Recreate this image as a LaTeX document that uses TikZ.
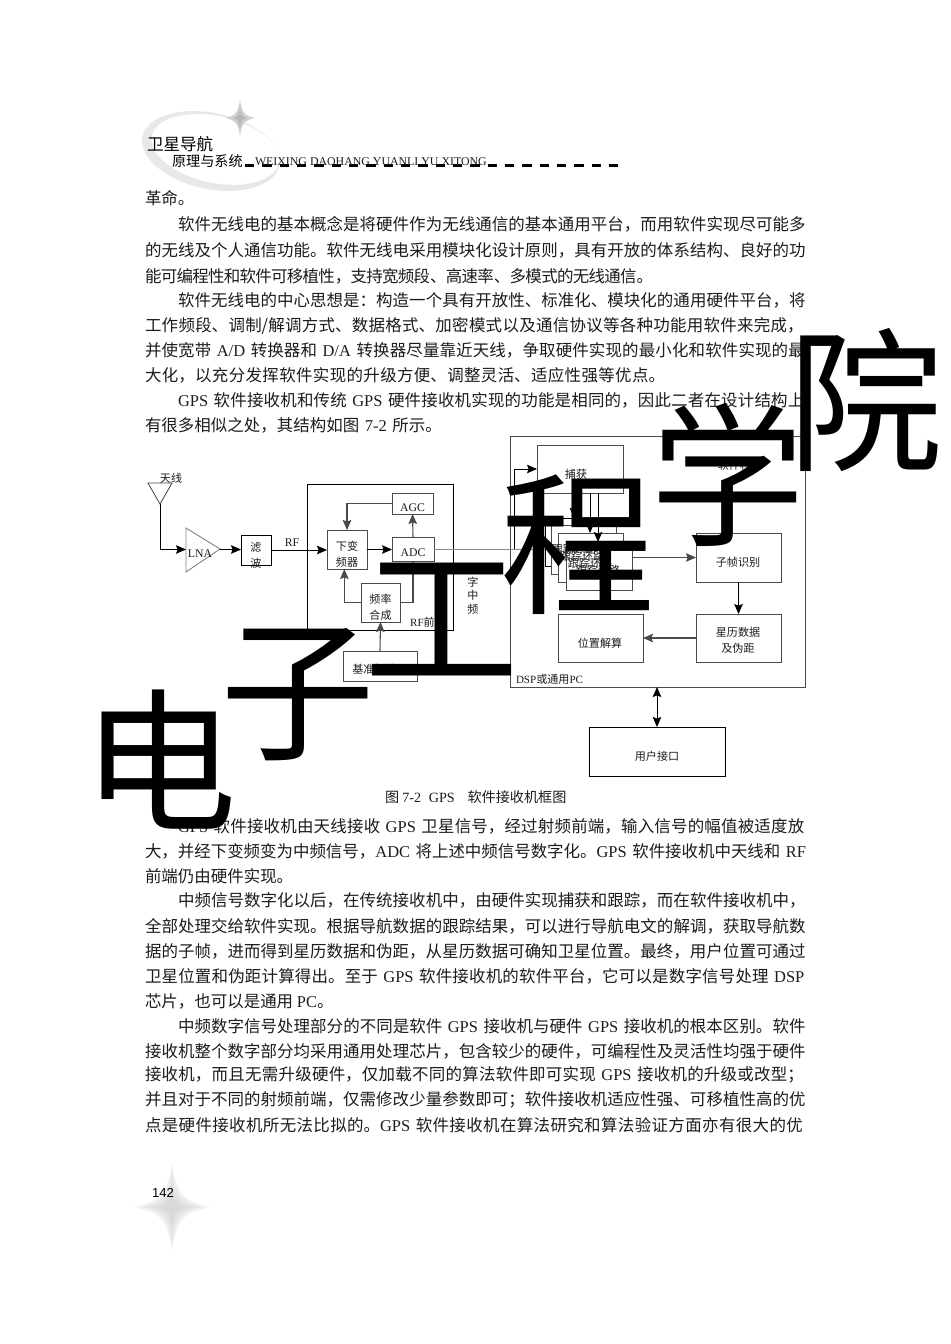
\documentclass[tikz,border=0pt]{standalone}
\usepackage{fontspec}
\usetikzlibrary{arrows.meta,calc}
\setmainfont{Noto Sans CJK SC}
\newfontfamily\tm{Liberation Serif}
\newfontfamily\ar{Liberation Sans}
\XeTeXlinebreaklocale "zh"
\XeTeXlinebreakskip=0pt plus 3pt minus 0.7pt
\newcommand\T[1]{{\tm #1}}
\newcounter{ln}
\definecolor{ink}{HTML}{1C1C1C}
\definecolor{wire}{HTML}{4A4A4A}
\tikzset{
  bodyfull/.style={anchor=base west,inner sep=0pt,outer sep=0pt,text=ink,font=\fontsize{12.35pt}{14pt}\selectfont},
  boxnode/.style={draw=wire,line width=.7pt,fill=white,inner sep=0pt,outer sep=0pt},
  blackbox/.style={boxnode,draw=black},
  lab/.style={inner sep=0pt,outer sep=0pt,text=ink,align=center,font=\fontsize{8.3pt}{12pt}\selectfont},
  latinlab/.style={lab,font=\tm\fontsize{8.8pt}{10pt}\selectfont},
  conn/.style={draw=black,line width=.7pt},
  grayconn/.style={draw=wire,line width=.8pt},
  arr/.style={-{Stealth[length=7.5pt,width=6.4pt,inset=1.2pt]}},
  mark2/.style={inner sep=0pt,outer sep=0pt,text=black,font=\fontsize{116pt}{116pt}\selectfont},
}
% justified line: x, y (centre), right end, text
\newcommand\Lw[4]{\stepcounter{ln}\node[bodyfull,text width={(#3-#1)*0.75pt}] (L\arabic{ln}) at (#1,#2+6) {\parindent=0pt\parfillskip=0pt\tolerance=10000\hbadness=10000 #4\par};}
\newcommand\Ln[3]{\Lw{#1}{#2}{806}{#3}}
% short line
\newcommand\Sh[3]{\stepcounter{ln}\node[bodyfull] (L\arabic{ln}) at (#1,#2+6) {#3};}
% box: style,name,x1,y1,x2,y2
\newcommand\Bx[6]{\node[#1,minimum width={(#5-#3)*0.75pt},minimum height={(#6-#4)*0.75pt}] (#2) at ({(#3+#5)/2},{(#4+#6)/2}) {};}
% four point star: cx,cy,half width,half height,style
\newcommand\Star[5]{\fill[#5] (#1-#3,#2) .. controls (#1-#3*.3,#2-#4*.12) and (#1-#3*.12,#2-#4*.3) .. (#1,#2-#4)
  .. controls (#1+#3*.12,#2-#4*.3) and (#1+#3*.3,#2-#4*.12) .. (#1+#3,#2)
  .. controls (#1+#3*.3,#2+#4*.12) and (#1+#3*.12,#2+#4*.3) .. (#1,#2+#4)
  .. controls (#1-#3*.12,#2+#4*.3) and (#1-#3*.3,#2+#4*.12) .. cycle;}
\begin{document}
\begin{tikzpicture}[x=0.75pt,y=-0.75pt]
\useasboundingbox (0,0) rectangle (950,1344);
\fill[white] (0,0) rectangle (950,1344);

% header ornaments
\fill[black!9,even odd rule,rotate around={-12:(211,151)}]
  (211,151) ellipse [x radius=70,y radius=38]
  (215,148.5) ellipse [x radius=65,y radius=33.5];
\Star{240}{118}{15}{18}{black!18}
\Star{240}{118}{7}{11}{black!28}

\node[lab,anchor=base west,text=black,font=\fontsize{12.4pt}{13pt}\selectfont] (hd1) at (147,151) {卫星导航};
\node[lab,anchor=base west,text=black,font=\fontsize{10.6pt}{12pt}\selectfont] (hd2) at (172,167) {原理与系统};
\draw[black,line width=1.9pt,dash pattern=on 7pt off 6pt] (245,165.6) -- (620,165.6);
\node[lab,anchor=base west,font=\tm\fontsize{8.9pt}{9pt}\selectfont] (hd3) at (255,166) {WEIXING DAOHANG YUANLI YU XITONG};

% footer ornaments
\Star{172}{1207}{38}{43}{black!6}
\Star{172}{1207}{30}{36}{black!9}
\Star{172}{1207}{22}{28}{black!12}
\Star{172}{1207}{14}{19}{black!15}
\node[lab,anchor=base,text=black,font=\ar\fontsize{9.8pt}{11pt}\selectfont] (pg) at (163,1197) {142};

% body text, top
\Sh{145}{199}{革命。}
\Ln{178}{225}{软件无线电的基本概念是将硬件作为无线通信的基本通用平台，而用软件实现尽可能多}
\Ln{145}{251}{的无线及个人通信功能。软件无线电采用模块化设计原则，具有开放的体系结构、良好的功}
\Lw{145}{276}{653}{能可编程性和软件可移植性，支持宽频段、高速率、多模式的无线通信。}
\Ln{178}{300}{软件无线电的中心思想是：构造一个具有开放性、标准化、模块化的通用硬件平台，将}
\Ln{145}{325}{工作频段、调制/解调方式、数据格式、加密模式以及通信协议等各种功能用软件来完成，}
\Ln{145}{350}{并使宽带 \T{A/D} 转换器和 \T{D/A} 转换器尽量靠近天线，争取硬件实现的最小化和软件实现的最}
\Lw{145}{375}{668}{大化，以充分发挥软件实现的升级方便、调整灵活、适应性强等优点。}
\Ln{178}{400}{\T{GPS} 软件接收机和传统 \T{GPS} 硬件接收机实现的功能是相同的，因此二者在设计结构上}
\Lw{145}{425}{442}{有很多相似之处，其结构如图 \T{7-2} 所示。}

% antenna and LNA
\draw[draw=wire,line width=.65pt] (148,483) -- (172,483) -- (160,504) -- cycle;
\coordinate (antTip) at (160,504);
\node[lab] (antl) at (171,478) {天线};
\draw[draw=wire!70,line width=.65pt] (186,528) -- (220,549) -- (186,572) -- cycle;
\coordinate (lnaIn) at (186,549.5);
\coordinate (lnaOut) at (220,549.5);
\node[latinlab] (lna) at (200,554) {LNA};

\Bx{blackbox}{filt}{241}{535}{271}{565}
\node[lab] (filtT) at (256,555) {滤\\波};
\Bx{boxnode,draw=black,fill=none}{rffront}{307}{484}{453}{630}
\Bx{boxnode}{ddc}{327}{530}{367}{569}
\node[lab] (ddcT) at (347,554) {下变\\频器};
\Bx{boxnode}{adc}{392}{537}{434}{561}
\node[latinlab] (adcT) at (413,553) {ADC};
\Bx{boxnode}{agc}{392}{493}{433}{514}
\node[latinlab] (agcT) at (412.5,508) {AGC};
\Bx{boxnode}{freq}{361}{583}{400}{622}
\node[lab] (freqT) at (380.5,607) {频率\\合成};
\Bx{boxnode}{osc}{343}{651}{417}{681}
\node[lab] (oscT) at (380,669) {基准振荡器};

\node[latinlab] (rfl) at (292,543) {RF};
\node[lab,font=\fontsize{8.3pt}{10pt}\selectfont] (rffl) at (428,622) {\T{RF}前端};
\node[lab,font=\fontsize{8.3pt}{10.1pt}\selectfont] (ifl) at (473,589) {数\\字\\中\\频};

\draw[conn,arr] (antTip) |- (lnaIn);
\draw[conn,arr] (lnaOut) -- (filt.west |- lnaOut);
\draw[conn,arr] (filt.east) -- (ddc.west |- filt.east);
\draw[conn,arr] (ddc.east) -- (adc.west |- ddc.east);
\draw[grayconn,arr] (agc.west) -| (ddc.north);
\draw[grayconn,arr] (adc.north) -- (agc.south);
\draw[grayconn,arr] (freq.west) -| ([xshift=-2pt]ddc.south);
\draw[grayconn,arr] (freq.east) -| (adc.south);
\draw[grayconn,arr] (osc.north) -- (freq.south);

% DSP block
\Bx{boxnode,fill=none}{dsp}{510}{436}{805}{687}
\node[lab,anchor=west,font=\fontsize{8.3pt}{10pt}\selectfont] (dspl) at (516,679) {\T{DSP}或通用\T{PC}};
\node[lab] (swl) at (740,465) {软件程序};
\Bx{boxnode}{cap}{537}{445}{623}{493}
\node[lab] (capT) at (576,474) {捕获};
\Bx{boxnode,draw=black}{loopa}{545}{518}{607}{566}
\Bx{boxnode}{loopb}{551}{525}{616}{574}
\Bx{boxnode}{loopc}{558}{533}{623}{582}
\Bx{boxnode}{loopd}{566}{542}{632}{590}
\node[lab] (ta) at (574,549) {跟踪环路};
\node[lab] (tb) at (582,556) {跟踪环路};
\node[lab] (tc) at (590,563) {跟踪环路};
\node[lab] (td) at (598,570) {跟踪环路};
\Bx{boxnode}{sub}{696}{533}{781}{582}
\node[lab] (subT) at (738,562) {子帧识别};
\Bx{boxnode}{eph}{696}{614}{781}{662}
\node[lab] (ephT) at (738,640) {星历数据\\及伪距};
\Bx{boxnode}{pos}{558}{614}{643}{662}
\node[lab] (posT) at (600,643) {位置解算};
\Bx{blackbox}{ui}{589}{727}{725}{776}
\node[lab] (uiT) at (657,756) {用户接口};

\coordinate (tap) at (514,549);
\draw[draw=black!45,line width=.7pt] (adc.east) -- (loopa.west |- adc.east);
\draw[conn,arr] (tap) |- (cap.west);
\draw[conn,arr] (574,0 |- cap.south) -- (574,0 |- loopa.north);
\draw[conn,arr] (590,0 |- cap.south) -- (590,0 |- loopc.north);
\draw[conn,arr] (598,0 |- cap.south) -- (598,0 |- loopd.north);
\draw[grayconn,arr] (loopd.east |- sub.west) -- (sub.west);
\draw[conn,arr] (sub.south) -- (sub.south |- eph.north);
\draw[grayconn,arr] (eph.west) -- (pos.east);
\draw[conn,{Stealth[length=7.5pt,width=6.4pt,inset=1.2pt]}-{Stealth[length=7.5pt,width=6.4pt,inset=1.2pt]}] (ui.north) -- (ui.north |- dsp.south);

\Sh{385}{796}{\fontsize{10.6pt}{12pt}\selectfont 图 \T{7-2}\ \ \hspace{1pt}\T{GPS}\ \ \ \hspace{2.5pt}软件接收机框图}

% body text, bottom
\Ln{178}{826}{\T{GPS} 软件接收机由天线接收 \T{GPS} 卫星信号，经过射频前端，输入信号的幅值被适度放}
\Ln{145}{851}{大，并经下变频变为中频信号，\T{ADC} 将上述中频信号数字化。\T{GPS} 软件接收机中天线和 \T{RF}}
\Sh{145}{876}{前端仍由硬件实现。}
\Ln{178}{900}{中频信号数字化以后，在传统接收机中，由硬件实现捕获和跟踪，而在软件接收机中，}
\Ln{145}{926}{全部处理交给软件实现。根据导航数据的跟踪结果，可以进行导航电文的解调，获取导航数}
\Ln{145}{951}{据的子帧，进而得到星历数据和伪距，从星历数据可确知卫星位置。最终，用户位置可通过}
\Ln{145}{976}{卫星位置和伪距计算得出。至于 \T{GPS} 软件接收机的软件平台，它可以是数字信号处理 \T{DSP}}
\Sh{145}{1001}{芯片，也可以是通用 \T{PC}。}
\Ln{178}{1026}{中频数字信号处理部分的不同是软件 \T{GPS} 接收机与硬件 \T{GPS} 接收机的根本区别。软件}
\Ln{145}{1051}{接收机整个数字部分均采用通用处理芯片，包含较少的硬件，可编程性及灵活性均强于硬件}
\Ln{145}{1074}{接收机，而且无需升级硬件，仅加载不同的算法软件即可实现 \T{GPS} 接收机的升级或改型；}
\Ln{145}{1099}{并且对于不同的射频前端，仅需修改少量参数即可；软件接收机适应性强、可移植性高的优}
\Ln{145}{1125}{点是硬件接收机所无法比拟的。\T{GPS} 软件接收机在算法研究和算法验证方面亦有很大的优}

% large overlay characters
\node[mark2] (m1) at (160,760) {电};
\node[mark2] (m2) at (298,695) {子};
\node[mark2] (m3) at (442,620) {工};
\node[mark2] (m4) at (578,545) {程};
\node[mark2] (m5) at (728,475) {学};
\node[mark2] (m6) at (866,400) {院};
\end{tikzpicture}
\end{document}
